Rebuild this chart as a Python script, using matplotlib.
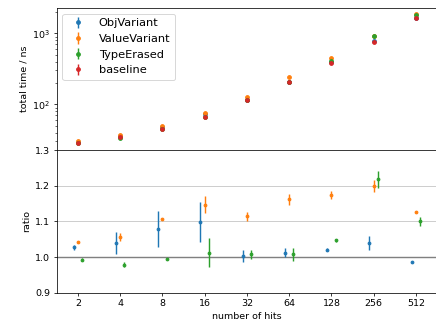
import numpy as np
import matplotlib
matplotlib.use("Agg")
import matplotlib.pyplot as plt

# number of hits per event
hits = [2, 4, 8, 16, 32, 64, 128, 256, 512]

# baseline timing (ns)
baseline_time = [28.8, 34.6, 44.5, 66.2, 114, 206, 385, 754, 1644]

# ratios to baseline and their errors
variants = ["ObjVariant", "ValueVariant", "TypeErased"]
ratio = {
    "ObjVariant":   [1.027, 1.039, 1.079, 1.098, 1.002, 1.012, 1.021, 1.039, 0.986],
    "ValueVariant": [1.041, 1.056, 1.106, 1.146, 1.114, 1.162, 1.173, 1.200, 1.125],
    "TypeErased":   [0.993, 0.979, 0.994, 1.012, 1.008, 1.008, 1.047, 1.218, 1.100],
}
ratio_err = {
    "ObjVariant":   [0.007, 0.031, 0.051, 0.057, 0.017, 0.012, 0.003, 0.019, 0.003],
    "ValueVariant": [0.003, 0.011, 0.003, 0.024, 0.012, 0.015, 0.011, 0.017, 0.003],
    "TypeErased":   [0.004, 0.006, 0.003, 0.040, 0.013, 0.018, 0.004, 0.024, 0.013],
}
time_err = [0, 0, 0, 0, 0, 0, 0, 0, 0]

colors = ["C0", "C1", "C2"]
shifts = [2 ** -0.1, 1.0, 2 ** 0.1]

fig = plt.figure(figsize=(6.4, 4.815), dpi=68.125)
ax_t = fig.add_axes([0.130, 0.5427, 0.8726, 0.4329])
ax_r = fig.add_axes([0.130, 0.1076, 0.8726, 0.4351], sharex=ax_t)

hits_arr = np.array(hits, dtype=float)
base = np.array(baseline_time)

# top: absolute times
for name, c in zip(variants, colors):
    t = base * np.array(ratio[name])
    ax_t.errorbar(hits_arr, t, yerr=time_err, fmt="o", ms=4, color=c, label=name)
ax_t.errorbar(hits_arr, base, yerr=time_err, fmt="o", ms=4, color="C3", label="baseline")
ax_t.set_yscale("log")
ax_t.set_ylim(22.7, 2270)
ax_t.set_ylabel("total time / ns")
ax_t.legend(loc="upper left", fontsize=12)
ax_t.tick_params(axis="x", bottom=False, labelbottom=False)

# bottom: ratios
for yl in [1.1, 1.2]:
    ax_r.axhline(yl, color="0.8", lw=1, zorder=0)
ax_r.axhline(1.0, color="gray", lw=1.5, zorder=0)
for name, c, s in zip(variants, colors, shifts):
    ax_r.errorbar(hits_arr * s, ratio[name], yerr=ratio_err[name], fmt=".", color=c)
ax_r.set_xscale("log", base=2)
ax_r.set_xticks(hits, [str(h) for h in hits])
ax_r.set_xlim(2 ** 0.5, 2 ** 9.5)
ax_r.set_ylim(0.9, 1.3)
ax_r.set_yticks([0.9, 1.0, 1.1, 1.2, 1.3])
ax_r.set_ylabel("ratio")
ax_r.set_xlabel("number of hits")

fig.savefig("out.png", dpi=68.125)
